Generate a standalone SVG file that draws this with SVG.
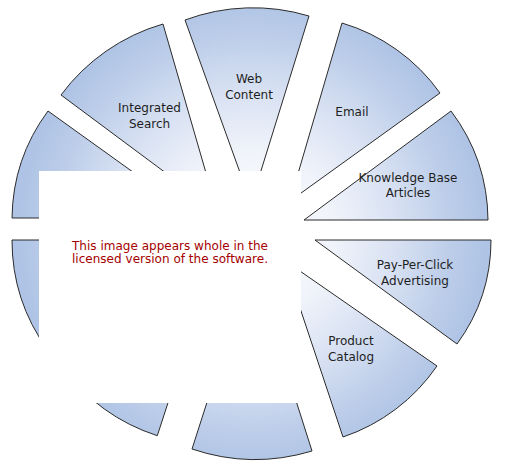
<svg xmlns="http://www.w3.org/2000/svg" width="512" height="470" viewBox="0 0 512 470">
  <defs>
    <radialGradient id="sliceFill" gradientUnits="userSpaceOnUse" cx="252" cy="234" r="235">
      <stop offset="0" stop-color="#ffffff"/>
      <stop offset="0.35" stop-color="#f0f3fa"/>
      <stop offset="0.6" stop-color="#d9e2f3"/>
      <stop offset="0.85" stop-color="#bccde9"/>
      <stop offset="1" stop-color="#aec3e5"/>
    </radialGradient>
  </defs>
  <style>
    .slice { fill: url(#sliceFill); stroke: #2b2b2b; stroke-width: 1; stroke-linejoin: miter; }
    .label { font-family: Verdana, "DejaVu Sans", sans-serif; font-size: 12px; fill: #1e1e1e; text-anchor: middle; }
    .notice { font-family: Verdana, "DejaVu Sans", sans-serif; font-size: 11.5px; fill: #a50000; text-anchor: middle; }
  </style>
  <rect x="0" y="0" width="512" height="470" fill="#ffffff"/>

  <g id="web-content">
    <path class="slice" d="M251,203 L185,20 A195,195 0 0 1 309,16 Z"/>
    <text class="label" x="249" y="83">Web</text>
    <text class="label" x="249" y="99">Content</text>
  </g>
  <g id="email">
    <path class="slice" d="M290,201 L342,23 A185,185 0 0 1 440,93 Z"/>
    <text class="label" x="352" y="116">Email</text>
  </g>
  <g id="knowledge-base-articles">
    <path class="slice" d="M304,220 L451,111 A184,184 0 0 1 488,220 Z"/>
    <text class="label" x="408" y="182">Knowledge Base</text>
    <text class="label" x="408" y="197">Articles</text>
  </g>
  <g id="pay-per-click-advertising">
    <path class="slice" d="M315,240 L491,240 A176,176 0 0 1 457,344 Z"/>
    <text class="label" x="415" y="269">Pay-Per-Click</text>
    <text class="label" x="415" y="285">Advertising</text>
  </g>
  <g id="product-catalog">
    <path class="slice" d="M284,260 L437,366 A186,186 0 0 1 343,437 Z"/>
    <text class="label" x="351" y="345">Product</text>
    <text class="label" x="351" y="361">Catalog</text>
  </g>
  <g id="slice-bottom">
    <path class="slice" d="M252,262 L312,451 A197,197 0 0 1 192,449 Z"/>
  </g>
  <g id="slice-lower-left">
    <path class="slice" d="M216,255 L157.3,435.7 A190,190 0 0 1 62.3,366.7 Z"/>
  </g>
  <g id="slice-left-lower">
    <path class="slice" d="M199,240 L47.7,349.9 A187,187 0 0 1 12,240 Z"/>
  </g>
  <g id="slice-left-upper">
    <path class="slice" d="M197,218 L12,218 A184,184 0 0 1 48,111 Z"/>
  </g>
  <g id="integrated-search">
    <path class="slice" d="M217,211 L61,95 A194,194 0 0 1 163,24 Z"/>
    <text class="label" x="149.5" y="112">Integrated</text>
    <text class="label" x="149.5" y="128">Search</text>
  </g>

  <g id="connectors"/>

  <g id="license-notice">
    <rect x="39" y="171" width="262" height="232" fill="#ffffff"/>
    <text class="notice" x="170" y="250" textLength="196" lengthAdjust="spacingAndGlyphs">This image appears whole in the</text>
    <text class="notice" x="170" y="262.5" textLength="196" lengthAdjust="spacingAndGlyphs">licensed version of the software.</text>
  </g>
</svg>
